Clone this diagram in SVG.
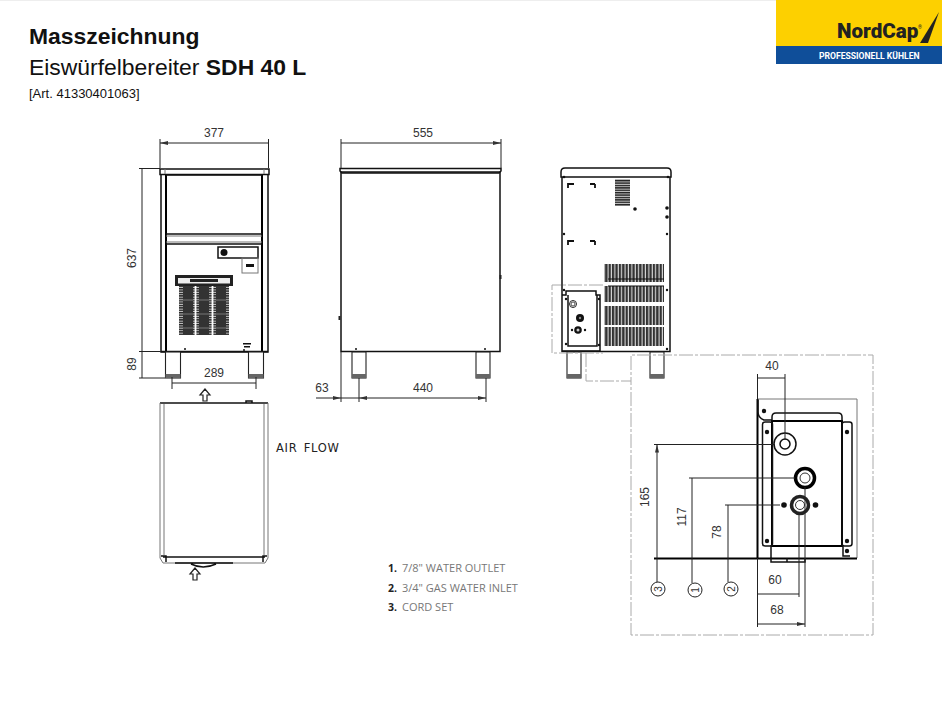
<svg xmlns="http://www.w3.org/2000/svg" width="942" height="703" viewBox="0 0 942 703">
<style>
.h{font-family:"Liberation Sans",Arial,sans-serif;fill:#111}
.d{font-family:"Liberation Sans",sans-serif;font-size:12px;fill:#333;text-anchor:middle}
.l{font-family:"Open Sans",sans-serif;font-size:11px;fill:#777}
.n{font-family:"Open Sans",sans-serif;font-size:10.5px;font-weight:700;fill:#222}
.o{fill:none;stroke:#111;stroke-width:1.5}
.t{fill:none;stroke:#000;stroke-width:2}
.g{fill:none;stroke:#777;stroke-width:1}
.f{fill:#fff;stroke:#222;stroke-width:1.2}
.w{fill:#fff;stroke:#222;stroke-width:1.100}
.dash{fill:none;stroke:#aaa;stroke-width:1;stroke-dasharray:14 2 3 2}
.dot{fill:#111}
</style>
<defs>
<pattern id="vfin" width="3.4" height="6" patternUnits="userSpaceOnUse"><rect width="3.4" height="6" fill="#ddd"/><rect width="2.300" height="6" fill="#333"/></pattern>
<pattern id="hfin" width="4" height="2.4" patternUnits="userSpaceOnUse"><rect width="4" height="2.4" fill="#ccc"/><rect width="4" height="1.400" fill="#222"/></pattern>
<marker id="a" viewBox="0 0 8 4" refX="8" refY="2" markerWidth="8" markerHeight="4" orient="auto-start-reverse" markerUnits="userSpaceOnUse"><path d="M0 0L8 2L0 4Z" fill="#333"/></marker>
</defs>
<rect width="942" height="703" fill="#fff"/>
<rect width="776" height="1" fill="#eee"/>
<g id="logo">
<rect x="776" y="0" width="166" height="46" fill="#fdd000"/>
<rect x="776" y="46" width="166" height="18" fill="#0f4e99"/>
<text x="837" y="38" font-family="Roboto,sans-serif" font-weight="900" font-size="20.600" fill="#222">NordCap</text>
<text x="918" y="29" font-family="Roboto,sans-serif" font-size="5" fill="#222">®</text>
<path d="M920 43L939 12L928 43Z" fill="#222"/>
<text x="819" y="59" font-family="Roboto,sans-serif" font-weight="700" font-size="8.600" fill="#fff">PROFESSIONELL KÜHLEN</text>
</g>
<g id="title">
<text class="h" x="29" y="44" font-size="22.900" font-weight="700">Masszeichnung</text>
<text class="h" x="29" y="75" font-size="22.900">Eiswürfelbereiter <tspan font-weight="700">SDH 40 L</tspan></text>
<text class="h" x="29" y="98" font-size="13">[Art. 41330401063]</text>
</g>
<g id="front-view">
<path class="o" d="M161 174V352H268V174"/>
<rect class="o" x="160" y="169" width="109" height="5.500"/>
<path class="t" d="M166 175V351M262 175V351"/>
<path class="g" d="M165 169V174M264 169V174"/>
<path class="o" d="M166 175H262M166 234H262M166 244H262M161 351.500H268"/>
<path class="g" d="M166 236H262M166 242H262"/>
<rect class="o" x="218" y="247" width="40" height="11"/><circle class="dot" cx="224" cy="252.500" r="3.500"/>
<rect class="g" x="242" y="258" width="16" height="15"/><rect class="dot" x="246" y="264" width="8" height="3"/>
<rect x="175" y="275" width="58" height="11" fill="#222"/><rect x="178" y="278" width="52" height="5.500" fill="#eee"/><rect x="190" y="279" width="28" height="3" fill="#222"/>
<rect x="179" y="286" width="50" height="49" fill="url(#hfin)"/>
<rect x="183" y="286" width="10" height="49" fill="#333"/><rect x="199" y="286" width="10" height="49" fill="#333"/><rect x="216" y="286" width="10" height="49" fill="#333"/>
<path d="M179 300H229M179 314H229M179 328H229" stroke="#777"/>
<path d="M195.500 286V335M212.500 286V335" stroke="#fff" stroke-width="1.800"/>
<rect class="dot" x="243" y="343" width="8" height="1.500"/><rect class="dot" x="244" y="346" width="6" height="1.500"/><circle class="dot" cx="244" cy="350" r="1"/><circle class="dot" cx="185" cy="349" r="1"/>
<rect class="w" x="165.500" y="352" width="15" height="26"/><rect x="165.500" y="374" width="15" height="4" fill="#666"/>
<rect class="w" x="248.500" y="352" width="15" height="26"/><rect x="248.500" y="374" width="15" height="4" fill="#666"/>
</g>
<g id="side-view">
<rect class="o" x="341" y="172" width="159" height="179.500"/>
<path class="o" d="M340 168.500H501V171L499 173H342L340 171Z" stroke-width="1"/>
<path d="M500.500 275V279M339.500 316V320" stroke="#222" stroke-width="2"/>
<rect class="w" x="352" y="352" width="14" height="26"/><rect x="352" y="374" width="14" height="4" fill="#666"/>
<rect class="w" x="476" y="352" width="14" height="26"/><rect x="476" y="374" width="14" height="4" fill="#666"/>
<circle class="dot" cx="356" cy="349" r="1"/><circle class="dot" cx="485" cy="349" r="1"/>
</g>
<g id="rear-view">
<path class="o" d="M562 177V351.500H670V177M561 177V172Q561 168 565 168H667Q671 168 671 172V177H561Z"/>
<rect x="615" y="179" width="15" height="27" fill="url(#hfin)"/>
<path d="M568 188V184H574M595 184H590M595 184V188M568 245V241H574M595 241H590M595 241V245" fill="none" stroke="#111" stroke-width="1.800"/>
<g class="dot"><circle cx="564" cy="177" r="1.300"/><circle cx="668" cy="177" r="1.300"/><circle cx="635" cy="209" r="1.800"/><circle cx="667" cy="208" r="1.800"/><circle cx="667" cy="217" r="1.800"/><circle cx="667" cy="234" r="1.200"/><circle cx="564" cy="234" r="1.200"/><circle cx="667" cy="290" r="1.200"/><circle cx="564" cy="290" r="1.200"/><circle cx="667" cy="349" r="1.200"/></g>
<rect x="604" y="264" width="60" height="18" fill="url(#vfin)"/><rect x="604" y="286" width="60" height="16" fill="url(#vfin)"/><rect x="604" y="306" width="60" height="19" fill="url(#vfin)"/><rect x="604" y="327" width="60" height="19" fill="url(#vfin)"/>
<path d="M608 279H664M608 286H664" stroke="#111" stroke-width="1.200"/>
<path class="o" d="M562 295H566V291H596V295H600V351H562M568 295V346H597V295"/>
<circle cx="573" cy="304" r="3.500" fill="none" stroke="#222"/><circle cx="573" cy="304" r="2" fill="none" stroke="#222" stroke-width=".8"/>
<circle class="dot" cx="580" cy="318" r="4"/><circle cx="580" cy="318" r="1.200" fill="#888"/>
<circle class="dot" cx="578" cy="330" r="3.800"/><circle cx="578" cy="330" r="1.500" fill="#ccc"/><circle class="dot" cx="572" cy="330" r="1.200"/><circle class="dot" cx="585" cy="330" r="1.200"/>
<g class="dot"><circle cx="566" cy="299" r="1.200"/><circle cx="566" cy="344" r="1.200"/><circle cx="599" cy="299" r="1.200"/><circle cx="599" cy="345" r="1.200"/></g>
<rect class="w" x="567" y="352" width="14" height="26"/><rect x="567" y="374" width="14" height="4" fill="#666"/>
<rect class="w" x="650" y="352" width="14" height="26"/><rect x="650" y="374" width="14" height="4" fill="#666"/>
<path class="dash" d="M603 285H552V353H603"/>
<path class="dash" d="M586 353V381H631V355H873V635H631V381"/>
</g>
<g id="top-view">
<path class="o" d="M160 403H268" stroke-width="1.800"/>
<path class="g" d="M160 403V558L163 563H265L268 558V403M164 404V555M264 404V555" stroke="#444"/>
<path class="o" d="M163 557H265" stroke-width="1.200"/>
<path class="o" d="M175 563H233M191 564Q203 570 216 564" stroke-width="1"/>
<path class="o" d="M161 556H166V562M267 556H263V562" stroke-width="1"/>
<path d="M246 403V401H252V403" class="o" stroke-width="1"/>
<path class="f" d="M205 389L200 395H203V401H207V395H210Z"/>
<path class="f" d="M195 568L190 574H193V580H197V574H200Z"/>
<text x="276" y="452" font-family="DejaVu Sans,sans-serif" font-size="11.500" letter-spacing=".7" word-spacing="2" fill="#222">AIR FLOW</text>
</g>
<g id="detail">
<path d="M757.500 399V558" stroke="#000" stroke-width="2"/>
<path d="M758 399V412Q758 418 764 420H772" class="o" stroke-width="1"/>
<path class="g" d="M758 399H857V558" stroke="#aaa"/>
<rect class="t" x="772" y="421" width="70" height="125" stroke-width="2.300"/>
<path class="o" d="M772 421V417Q772 413 776 413H838Q842 413 842 417V421" stroke-width="1"/>
<rect class="o" x="762.500" y="422" width="10" height="124" rx="2.500" stroke-width="1"/>
<rect class="o" x="842" y="422" width="10" height="124" rx="2.500" stroke-width="1"/>
<path class="o" d="M771 546V558M843 546V556H850" stroke-width="1"/>
<circle class="dot" cx="764" cy="411" r="2.200"/><circle class="dot" cx="767" cy="432" r="2.200"/><circle class="dot" cx="847" cy="432" r="2.200"/><circle class="dot" cx="767" cy="541" r="2.200"/><circle class="dot" cx="847" cy="541" r="2.200"/><circle class="dot" cx="847" cy="551" r="2.200"/>
<circle class="o" cx="785" cy="444" r="11" stroke-width="1"/><circle class="o" cx="785" cy="444" r="5" stroke-width="1"/>
<circle cx="805" cy="478" r="9.500" fill="#fff" stroke="#000" stroke-width="3.500"/><circle cx="805" cy="478" r="5" fill="#fff" stroke="#333" stroke-width="1"/>
<circle cx="800" cy="505" r="8.500" fill="#fff" stroke="#222" stroke-width="3.500"/><circle cx="800" cy="505" r="4.500" fill="#fff" stroke="#333" stroke-width="1"/>
<circle class="dot" cx="784" cy="505" r="2.800"/><circle class="dot" cx="815.500" cy="505" r="2.800"/>
<path d="M654 558.500H857" stroke="#000" stroke-width="2"/>
<path class="o" d="M771 558V562H805V558M787 558V562" stroke-width="1"/>
</g>
<g id="connectors" fill="none" stroke="#222" stroke-width="1">
<path d="M160 139V168M268.500 139V168M139 168.500H160M139 351.500H161M139 378H165M172 377V389M256 377V389M341 139V168M501 139V168"/>
<path d="M160 143H268.500M142 168.500V351.500M142 352V378M172 383H256M341 143H501" marker-start="url(#a)" marker-end="url(#a)"/>
<path d="M341 352V402M359 378V402M486 378V402"/>
<path d="M316 398H341" marker-end="url(#a)"/><path d="M359 398H486" marker-start="url(#a)" marker-end="url(#a)"/><path d="M341 398H359"/>
<path d="M654 444.500H775M689 478H795M725 505H780M757.500 374V399M785 374V440M799 513V597M805 487V627M757.500 558V627"/>
<path d="M657 444.500V558M692 478V558M728 505V558M757.500 378H785M757.500 594H799M757.500 624H805" marker-start="url(#a)" marker-end="url(#a)"/>
<path d="M657 558V582M692 558V583M728 558V582"/>
</g>
<g id="labels">
<text class="d" x="214" y="137">377</text>
<text class="d" x="423" y="137">555</text>
<text class="d" x="132" y="258" transform="rotate(-90 132 258)" dy="4">637</text>
<text class="d" x="132" y="364" transform="rotate(-90 132 364)" dy="4">89</text>
<text class="d" x="214" y="377">289</text>
<text class="d" x="322" y="392">63</text>
<text class="d" x="423" y="392">440</text>
<text class="d" x="772" y="370">40</text>
<text class="d" x="645" y="497" transform="rotate(-90 645 497)" dy="4">165</text>
<text class="d" x="682" y="517" transform="rotate(-90 682 517)" dy="4">117</text>
<text class="d" x="717" y="532" transform="rotate(-90 717 532)" dy="4">78</text>
<text class="d" x="775" y="584">60</text>
<text class="d" x="777" y="614">68</text>
<g fill="#fff" stroke="#222" stroke-width="1"><circle cx="658" cy="589" r="7"/><circle cx="695" cy="590" r="7"/><circle cx="731" cy="589" r="7"/></g>
<text class="d" x="658" y="589" transform="rotate(-90 658 589)" dy="3.500" style="font-size:10px">3</text>
<text class="d" x="695" y="590" transform="rotate(-90 695 590)" dy="3.500" style="font-size:10px">1</text>
<text class="d" x="731" y="589" transform="rotate(-90 731 589)" dy="3.500" style="font-size:10px">2</text>
</g>
<g id="legend">
<text class="n" x="388" y="572">1.</text><text class="l" x="402" y="572">7/8" WATER OUTLET</text>
<text class="n" x="388" y="592">2.</text><text class="l" x="402" y="592">3/4" GAS WATER INLET</text>
<text class="n" x="388" y="611">3.</text><text class="l" x="402" y="611">CORD SET</text>
</g>
</svg>
